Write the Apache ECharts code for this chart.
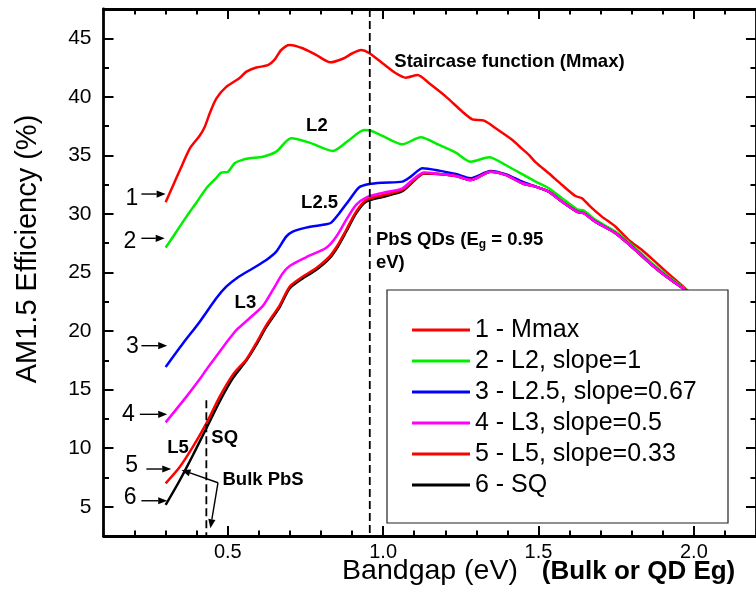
<!DOCTYPE html>
<html>
<head>
<meta charset="utf-8">
<script src="https://cdn.jsdelivr.net/npm/echarts@6/dist/echarts.min.js"></script>
<style>
html,body{margin:0;padding:0;background:#fff;}
#main{width:756px;height:597px;}
</style>
</head>
<body>
<div id="main"></div>
<script>
// ---------- data ----------
const seriesNames = ['1 - Mmax', '2 - L2, slope=1', '3 - L2.5, slope=0.67', '4 - L3, slope=0.5', '5 - L5, slope=0.33', '6 - SQ'];

const mmaxX = [0.300,0.325,0.346,0.378,0.410,0.426,0.442,0.463,0.495,0.538,0.560,0.592,0.629,0.650,0.672,0.699,0.741,0.784,0.830,0.870,0.900,0.929,0.956,0.998,1.041,1.073,1.111,1.148,1.202,1.255,1.287,1.325,1.362,1.416,1.437,1.469,1.491,1.533,1.576,1.619,1.640,1.667,1.704,1.748,1.790,1.833,1.887,1.929,1.972,2.020];
const mmaxY = [31.0,32.5,33.75,35.6,36.7,37.45,38.6,39.85,40.85,41.6,42.15,42.5,42.7,43.15,44.0,44.43,44.15,43.58,42.95,43.25,43.7,44.0,43.72,42.87,42.01,41.64,41.87,41.16,40.02,38.73,38.08,37.97,37.32,36.32,35.8,35.04,34.4,33.47,32.47,31.53,31.34,30.62,29.77,28.91,27.78,26.92,25.64,24.64,23.65,22.5];

const l2X = [0.300,0.335,0.367,0.400,0.431,0.460,0.479,0.501,0.522,0.545,0.570,0.613,0.656,0.704,0.763,0.838,0.891,0.939,0.961,0.998,1.062,1.121,1.180,1.234,1.282,1.341,1.394,1.437,1.491,1.533,1.576,1.624,1.646,1.683,1.748,1.812,1.865,1.919,1.972,2.020];
const l2Y = [27.12,28.5,29.77,31.0,32.19,33.0,33.53,33.61,34.33,34.6,34.75,34.89,35.32,36.46,36.09,35.38,36.32,37.17,37.1,36.66,35.95,36.55,35.89,35.23,34.46,34.84,34.18,33.55,32.76,32.19,31.34,30.4,30.28,29.49,28.49,27.07,25.79,24.64,23.59,22.45];

const l25X = [0.300,0.356,0.410,0.463,0.495,0.533,0.581,0.624,0.656,0.688,0.709,0.752,0.817,0.833,0.859,0.891,0.923,0.956,0.998,1.062,1.089,1.127,1.180,1.234,1.282,1.346,1.394,1.448,1.491,1.533,1.576,1.624,1.646,1.683,1.748,1.812,1.865,1.919,1.972,2.020];
const l25Y = [16.93,18.96,20.8,22.8,23.79,24.6,25.36,26.07,26.78,28.06,28.49,28.83,29.12,29.26,30.06,31.19,32.28,32.56,32.67,32.76,33.19,33.9,33.7,33.41,33.05,33.67,33.39,32.75,32.33,31.9,31.05,30.2,30.06,29.34,28.35,26.92,25.64,24.5,23.51,22.4];

const l3X = [0.300,0.367,0.410,0.431,0.463,0.495,0.517,0.528,0.570,0.613,0.645,0.677,0.699,0.752,0.817,0.849,0.881,0.913,0.945,0.998,1.062,1.094,1.132,1.180,1.234,1.282,1.346,1.394,1.448,1.491,1.533,1.576,1.624,1.646,1.683,1.748,1.812,1.865,1.919,1.972,2.020];
const l3Y = [12.2,14.4,15.9,16.7,17.85,19.0,19.75,20.09,21.09,22.15,23.51,24.93,25.56,26.3,27.12,28.06,29.49,30.77,31.4,31.8,32.19,32.9,33.53,33.41,33.24,32.9,33.61,33.33,32.62,32.33,31.9,31.05,30.2,30.06,29.34,28.35,26.92,25.64,24.5,23.51,22.4];

const l5X = [0.300,0.346,0.388,0.431,0.474,0.517,0.560,0.590,0.624,0.667,0.699,0.741,0.784,0.827,0.854,0.881,0.913,0.945,0.998,1.062,1.094,1.132,1.180,1.234,1.282,1.346,1.394,1.448,1.491,1.533,1.576,1.624,1.646,1.683,1.748,1.812,1.865,1.919,1.972,2.020];
const l5Y = [7.0,8.42,10.13,12.12,14.4,16.3,17.6,18.9,20.5,22.2,23.79,24.64,25.36,26.35,27.35,28.63,30.2,31.19,31.6,32.05,32.76,33.47,33.41,33.24,32.9,33.61,33.33,32.62,32.33,31.9,31.05,30.2,30.06,29.34,28.35,26.92,25.64,24.5,23.51,22.4];

const sqX = [0.300,0.346,0.388,0.431,0.474,0.517,0.560,0.590,0.624,0.667,0.699,0.741,0.784,0.827,0.854,0.881,0.913,0.945,0.998,1.062,1.094,1.132,1.180,1.234,1.282,1.346,1.394,1.448,1.491,1.533,1.576,1.624,1.646,1.683,1.748,1.812,1.865,1.919,1.972,2.020];
const sqY = [5.15,7.28,9.42,11.7,14.0,16.0,17.5,18.75,20.35,22.05,23.64,24.49,25.21,26.2,27.2,28.48,30.05,31.04,31.45,31.95,32.7,33.45,33.41,33.24,32.9,33.61,33.33,32.62,32.33,31.9,31.05,30.2,30.06,29.34,28.35,26.92,25.64,24.5,23.51,22.4];

const xMajorTicks = [0.5, 1.0, 1.5, 2.0];
const xMinorTicks = [0.2,0.3,0.4,0.6,0.7,0.8,0.9,1.1,1.2,1.3,1.4,1.6,1.7,1.8,1.9,2.1];
const yMajorTicks = [5,10,15,20,25,30,35,40,45];
const yMinorTicks = [7.5,12.5,17.5,22.5,27.5,32.5,37.5,42.5];

// reference markers (data coordinates)
const qdBandgap = 0.957;     // PbS QDs Eg line
const bulkBandgap = 0.431;   // bulk PbS Eg line
const bulkLineTop = 14.1;

const curveLabelText = ['1','2','3','4','5','6'];
const curveLabelPos = [[0.1915,31.28],[0.185,27.63],[0.193,18.67],[0.18,12.88],[0.1905,8.52],[0.186,5.79]];
const curveArrows = [[[0.222,31.7],[0.300,31.7]],[[0.222,27.92],[0.297,27.92]],[[0.222,18.75],[0.305,18.75]],[[0.217,12.89],[0.305,12.89]],[[0.238,8.22],[0.318,8.22]],[[0.222,5.51],[0.305,5.51]]];
const bulkArrows = [[[0.4685,7.05],[0.351,8.14]],[[0.4685,7.05],[0.444,3.16]]];

const annoText = ['Staircase function (Mmax)','L2','L2.5','L3','L5','SQ','Bulk PbS'];
const annoPos = [[1.036,42.98],[0.752,37.51],[0.736,30.94],[0.522,22.44],[0.305,10.06],[0.447,10.87],[0.483,7.28]];
const qdLabelPos = [[0.977,27.78],[0.977,25.81]];

// ---------- chart ----------
const FONT = '"Liberation Sans", Arial, Helvetica, sans-serif';
const colors = ['#ff0000','#00ee00','#0000ff','#ff00ff','#ff0000','#000000'];
const zs = [3,3,4,7,6,5];
const xs = [mmaxX,l2X,l25X,l3X,l5X,sqX];
const ys = [mmaxY,l2Y,l25Y,l3Y,l5Y,sqY];

const GRID = {left:103.5, top:9, width:654.5, height:527};
const axisLineStyle = {color:'#000', width:2.8};

function xAx(gridIndex, position, ticks, len, showLine, showLabel) {
  return {
    type:'value', gridIndex, position, min:0.1, max:2.2,
    axisLine:{show:showLine, onZero:false, lineStyle:axisLineStyle},
    axisTick:{show:true, inside:true, length:len, customValues:ticks, lineStyle:{color:'#000', width:2}},
    axisLabel:{show:showLabel, customValues:ticks, formatter:v=>v.toFixed(1), fontSize:20, color:'#000', fontFamily:FONT, margin:6},
    splitLine:{show:false}
  };
}
function yAx(gridIndex, position, ticks, len, showLine, showLabel) {
  return {
    type:'value', gridIndex, position, min:2.5, max:47.5,
    axisLine:{show:showLine, onZero:false, lineStyle:axisLineStyle},
    axisTick:{show:true, inside:true, length:len, customValues:ticks, lineStyle:{color:'#000', width:2}},
    axisLabel:{show:showLabel, customValues:ticks, formatter:v=>String(Math.round(v)), fontSize:21, color:'#000', fontFamily:FONT, margin:12},
    splitLine:{show:false}
  };
}

const series = seriesNames.map((name,i)=>({
  name, type:'line', xAxisIndex:0, yAxisIndex:0,
  data: xs[i].map((x,j)=>[x, ys[i][j]]),
  showSymbol:false, symbol:'none', smooth:0.25,
  lineStyle:{color:colors[i], width:2.5},
  itemStyle:{color:colors[i]},
  z:zs[i], animation:false
}));

const option = {
  animation:false,
  backgroundColor:'#fff',
  grid:[Object.assign({},GRID), Object.assign({},GRID)],
  xAxis:[
    xAx(0,'bottom',xMajorTicks,10,true,true),
    xAx(0,'top',xMajorTicks,10,true,false),
    xAx(1,'bottom',xMinorTicks,5.5,false,false),
    xAx(1,'top',xMinorTicks,5.5,false,false)
  ],
  yAxis:[
    yAx(0,'left',yMajorTicks,10,true,true),
    yAx(0,'right',yMajorTicks,10,true,false),
    yAx(1,'left',yMinorTicks,5.5,false,false),
    yAx(1,'right',yMinorTicks,5.5,false,false)
  ],
  legend:{
    orient:'vertical', left:412, top:314.5, padding:0,
    itemWidth:58, itemHeight:3, itemGap:0, icon:'rect',
    selectedMode:false, z:200,
    data:seriesNames,
    textStyle:{fontSize:25, color:'#000', fontFamily:FONT, lineHeight:31}
  },
  series
};

const chart = echarts.init(document.getElementById('main'), null, {renderer:'canvas'});
chart.setOption(option);

function px(p){ return chart.convertToPixel({xAxisIndex:0, yAxisIndex:0}, p); }

function arrow(a, b, z) {
  const p1 = px(a), p2 = px(b);
  const dx = p2[0]-p1[0], dy = p2[1]-p1[1];
  const L = Math.sqrt(dx*dx+dy*dy), ux = dx/L, uy = dy/L;
  const hl = 9, hw = 3.6;
  const bx = p2[0]-ux*hl, by = p2[1]-uy*hl;
  return [
    {type:'line', z, shape:{x1:p1[0], y1:p1[1], x2:bx, y2:by}, style:{stroke:'#000', lineWidth:1.4}},
    {type:'polygon', z, shape:{points:[[p2[0],p2[1]],[bx-uy*hw, by+ux*hw],[bx+uy*hw, by-ux*hw]]}, style:{fill:'#000'}}
  ];
}

const g = [];
// dashed reference lines
const qTop = px([qdBandgap, 47.5]), qBot = px([qdBandgap, 2.5]);
g.push({type:'line', z:50, shape:{x1:qTop[0], y1:qTop[1], x2:qBot[0], y2:qBot[1]}, style:{stroke:'#000', lineWidth:1.8, lineDash:[8,4]}});
const bTop = px([bulkBandgap, bulkLineTop]), bBot = px([bulkBandgap, 2.5]);
g.push({type:'line', z:50, shape:{x1:bTop[0], y1:bTop[1], x2:bBot[0], y2:bBot[1]}, style:{stroke:'#000', lineWidth:1.8, lineDash:[8,4]}});

// legend box (covers curve ends)
g.push({type:'rect', z:100, shape:{x:387, y:290, width:341, height:233}, style:{fill:'#fff', stroke:'#222', lineWidth:1.2}});

// number labels with arrows
curveLabelText.forEach((t,i)=>{
  const p = px(curveLabelPos[i]);
  g.push({type:'text', z:60, x:p[0], y:p[1], style:{text:t, fontSize:23, fontFamily:FONT, fill:'#000', align:'center', verticalAlign:'middle'}});
  arrow(curveArrows[i][0], curveArrows[i][1], 60).forEach(e=>g.push(e));
});
bulkArrows.forEach(a=>arrow(a[0],a[1],60).forEach(e=>g.push(e)));

// bold annotations
annoText.forEach((t,i)=>{
  const p = px(annoPos[i]);
  g.push({type:'text', z:60, x:p[0], y:p[1], style:{text:t, fontSize:18.5, fontWeight:'bold', fontFamily:FONT, fill:'#000', align:'left', verticalAlign:'middle'}});
});
const q1 = px(qdLabelPos[0]), q2 = px(qdLabelPos[1]);
g.push({type:'text', z:60, x:q1[0], y:q1[1], style:{
  text:'{b|PbS QDs (E}{s|g}{b| = 0.95}', align:'left', verticalAlign:'middle',
  rich:{
    b:{fontSize:18.5, fontWeight:'bold', fontFamily:FONT, fill:'#000', color:'#000', lineHeight:22},
    s:{fontSize:12, fontWeight:'bold', fontFamily:FONT, fill:'#000', color:'#000', lineHeight:22, padding:[10,0,0,0]}
  }}});
g.push({type:'text', z:60, x:q2[0], y:q2[1], style:{text:'eV)', fontSize:18.5, fontWeight:'bold', fontFamily:FONT, fill:'#000', align:'left', verticalAlign:'middle'}});

// axis titles
g.push({type:'text', z:60, x:430, y:571, style:{text:'Bandgap (eV)', fontSize:28.5, fontFamily:FONT, fill:'#000', align:'center', verticalAlign:'middle'}});
g.push({type:'text', z:60, x:638.5, y:572, style:{text:'(Bulk or QD Eg)', fontSize:26, fontWeight:'bold', fontFamily:FONT, fill:'#000', align:'center', verticalAlign:'middle'}});
g.push({type:'text', z:60, x:28, y:249, rotation:Math.PI/2, style:{text:'AM1.5 Efficiency (%)', fontSize:29, fontFamily:FONT, fill:'#000', align:'center', verticalAlign:'middle'}});

chart.setOption({graphic:{elements:g}});
</script>
</body>
</html>
